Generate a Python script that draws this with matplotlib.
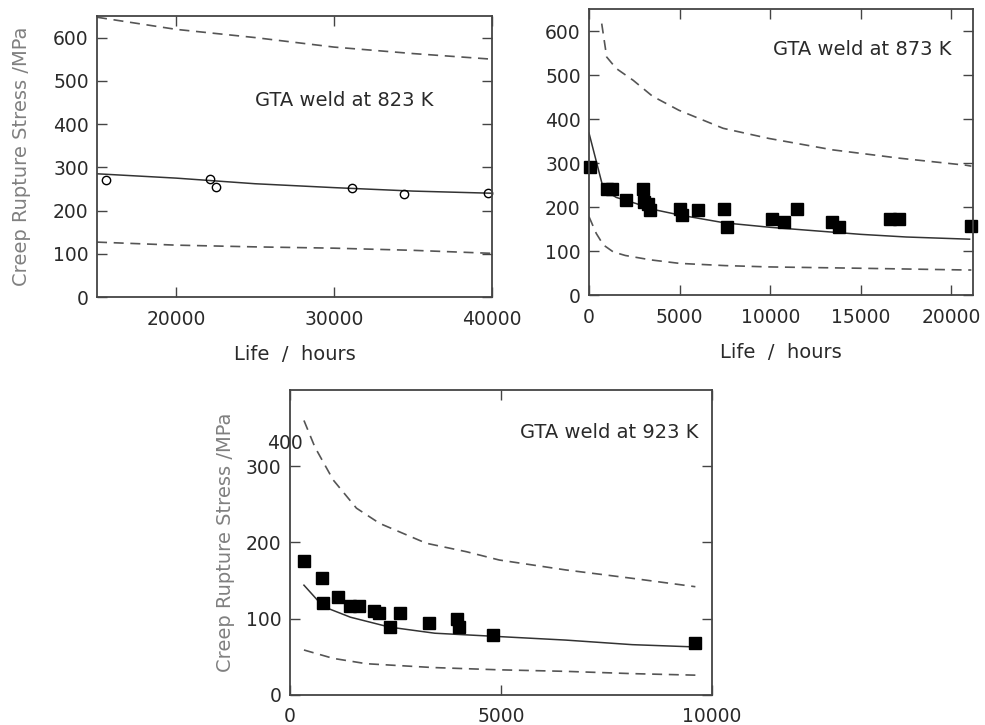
import matplotlib
matplotlib.use("Agg")
import matplotlib.pyplot as plt

# ---- GTA weld at 823 K ----
t823 = [15570, 22150, 22530, 31130, 34430, 39750]
s823 = [270, 274, 254, 252, 238, 240]
fit823_t = [15000, 20000, 25000, 30000, 35000, 40000]
fit823_mean = [285, 275, 262, 253, 245, 240]
fit823_upper = [647, 619, 600, 578, 563, 550]
fit823_lower = [127, 120, 116, 113, 108, 101]

# ---- GTA weld at 873 K ----
t873 = [50, 980, 1260, 2050, 2980, 3060, 3260, 3390, 5000, 5150, 6020,
        7460, 7610, 10110, 10760, 11500, 13430, 13800, 16590, 17090, 21100]
s873 = [290, 242, 242, 216, 242, 212, 207, 193, 195, 183, 193,
        195, 155, 174, 165, 195, 165, 155, 174, 173, 157]
mean873_t = [0, 800, 1500, 2600, 3500, 5000, 7500, 10000, 12500, 15000, 17500, 21000]
mean873_s = [368, 240, 222, 208, 195, 182, 164, 154, 146, 138, 132, 127]
upper873_t = [700, 975, 1500, 2440, 3500, 4960, 7400, 9920, 13450, 17150, 20820, 21100]
upper873_s = [617, 541, 515, 488, 452, 420, 379, 356, 330, 311, 295, 293]
lower873_t = [0, 400, 790, 1340, 2000, 3400, 5000, 7500, 9920, 14900, 20820, 21100]
lower873_s = [178, 140, 114, 98, 90, 80, 72, 67, 64, 61, 57, 57]

# ---- GTA weld at 923 K ----
t923 = [331, 764, 787, 1142, 1433, 1638, 1984, 2102, 2362, 2614, 3292, 3962, 4016, 4819, 9607]
s923 = [176, 154, 120, 128, 117, 117, 110, 107, 89, 108, 95, 99, 89, 79, 68]
mean923_t = [331, 787, 1433, 2362, 3433, 4819, 6535, 8110, 9607]
mean923_s = [144, 116, 102, 89, 81, 77, 72, 66, 63]
upper923_t = [331, 591, 1024, 1575, 2126, 3228, 4173, 4960, 6535, 8110, 9607]
upper923_s = [360, 325, 282, 245, 225, 199, 188, 177, 164, 153, 142]
lower923_t = [331, 1024, 1811, 3386, 4960, 6535, 8110, 9607]
lower923_s = [59, 48, 41, 36, 33, 31, 28, 26]

plt.rcParams['font.family'] = ['DejaVu Sans']

TXT = '#2a2a2a'
YLAB = '#808080'
LINE = '#333333'
DASH = '#555555'


def style_axes(ax):
    for sp in ax.spines.values():
        sp.set_color('#444444')
        sp.set_linewidth(1.3)
    ax.tick_params(direction='in', length=7, width=1.0, color='#444444',
                   top=True, right=True, labelsize=13.5, labelcolor=TXT)
    ax.tick_params(axis='x', pad=9)
    ax.tick_params(axis='y', pad=6)


def draw_panel(ax, t, s, mt, ms, ut, us, lt, ls, marker, filled, title, tx, ty):
    ax.plot(mt, ms, color=LINE, lw=1.1)
    ax.plot(ut, us, color=DASH, lw=1.2, dashes=(6, 4))
    ax.plot(lt, ls, color=DASH, lw=1.2, dashes=(6, 4))
    ax.plot(t, s, linestyle='none', marker=marker,
            ms=6 if marker == 'o' else 8,
            mfc='black' if filled else 'none', mec='black', mew=1.0,
            clip_on=False)
    ax.text(tx, ty, title, transform=ax.transAxes, fontsize=14,
            color=TXT, ha='left', va='center')
    style_axes(ax)


fig = plt.figure(figsize=(9.85, 7.25), dpi=100)

# top left
ax1 = fig.add_axes([0.0985, 0.5903, 0.401, 0.3877])
draw_panel(ax1, t823, s823, fit823_t, fit823_mean, fit823_t, fit823_upper,
           fit823_t, fit823_lower, 'o', False, 'GTA weld at 823 K', 0.40, 0.70)
ax1.set_xlim(15000, 40000)
ax1.set_ylim(0, 650)
ax1.set_xticks([20000, 30000, 40000])
ax1.set_yticks(range(0, 601, 100))
ax1.set_xlabel('Life  /  hours', fontsize=14, color=TXT, labelpad=12)
ax1.set_ylabel('Creep Rupture Stress /MPa', fontsize=14, color=YLAB, labelpad=16)

# top right
ax2 = fig.add_axes([0.598, 0.593, 0.390, 0.3945])
draw_panel(ax2, t873, s873, mean873_t, mean873_s, upper873_t, upper873_s,
           lower873_t, lower873_s, 's', True, 'GTA weld at 873 K', 0.48, 0.86)
ax2.set_xlim(0, 21200)
ax2.set_ylim(0, 650)
ax2.set_xticks(range(0, 20001, 5000))
ax2.set_yticks(range(0, 601, 100))
ax2.set_xlabel('Life  /  hours', fontsize=14, color=TXT, labelpad=12)

# bottom
ax3 = fig.add_axes([0.2944, 0.0414, 0.4284, 0.4207])
draw_panel(ax3, t923, s923, mean923_t, mean923_s, upper923_t, upper923_s,
           lower923_t, lower923_s, 's', True, 'GTA weld at 923 K', 0.545, 0.86)
ax3.set_xlim(0, 10000)
ax3.set_ylim(0, 400)
ax3.set_xticks([0, 5000, 10000])
ax3.set_yticks([0, 100, 200, 300])
ax3.set_ylabel('Creep Rupture Stress /MPa', fontsize=14, color=YLAB, labelpad=8)
# stray "400" label sitting below the top of the axis, as in the original
ax3.text(0.031, 0.826, '400', transform=ax3.transAxes, fontsize=13.5,
         color=TXT, ha='right', va='center')

fig.savefig('out.png', dpi=100)
